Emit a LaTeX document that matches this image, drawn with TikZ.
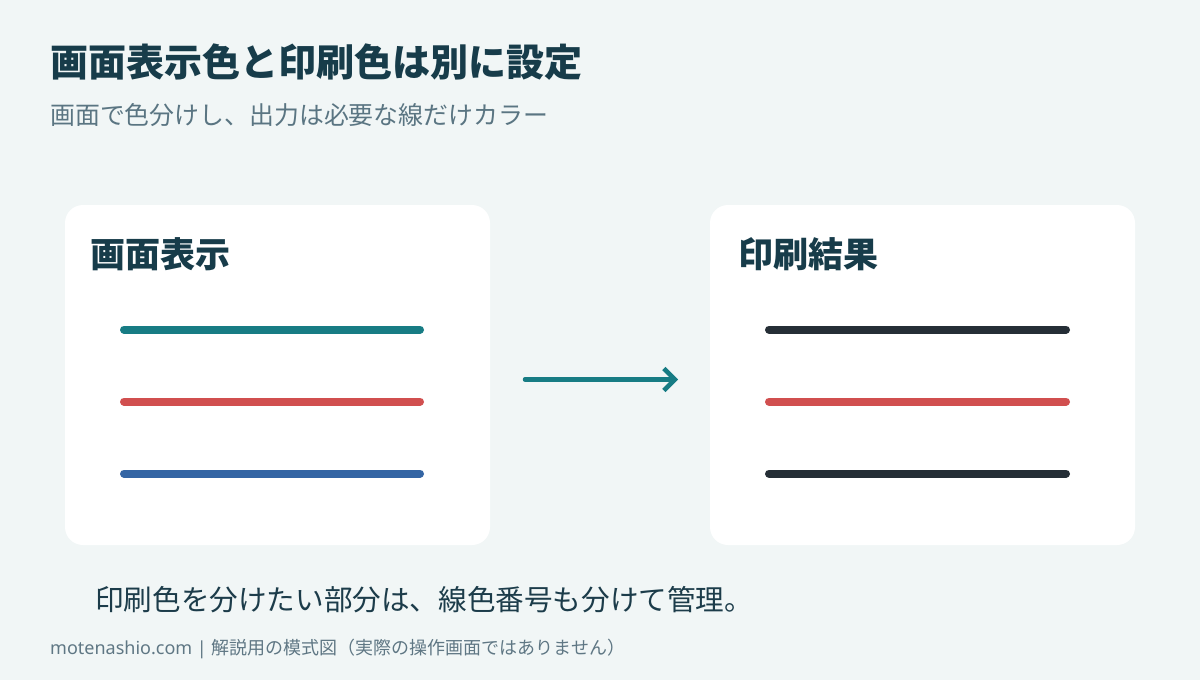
\documentclass[tikz,border=0pt]{standalone}
\usepackage{fontspec}
\setmainfont{Noto Sans CJK JP}
\newfontfamily\latinfont{Noto Sans}
\usetikzlibrary{arrows.meta}
\definecolor{bg}{HTML}{F1F6F6}
\definecolor{titlec}{HTML}{173C4A}
\definecolor{subc}{HTML}{5A7582}
\definecolor{bodyc}{HTML}{1C3C4A}
\definecolor{footc}{HTML}{5F7784}
\definecolor{tealc}{HTML}{177C84}
\definecolor{redc}{HTML}{D14F4F}
\definecolor{bluec}{HTML}{3465A4}
\definecolor{darkc}{HTML}{252E36}
\tikzset{
  card/.style={fill=white, rounded corners=18pt, draw=none},
  cardtitle/.style={anchor=west, inner sep=0pt, text=titlec, font=\fontsize{35}{40}\selectfont\bfseries},
  sample/.style={line width=8pt, line cap=round},
  flow/.style={line width=4.5pt, line cap=round, tealc, -{Straight Barb[length=11pt, width=22pt, line width=4.5pt]}},
}
\begin{document}
\begin{tikzpicture}[x=1pt, y=-1pt]
\fill[bg] (0,0) rectangle (1200,680);
\useasboundingbox (0,0) rectangle (1200,680);
\node[anchor=west, inner sep=0pt, text=titlec, font=\fontsize{38}{44}\selectfont\bfseries] (title) at (50,62) {画面表示色と印刷色は別に設定};
\node[anchor=west, inner sep=0pt, text=subc, font=\fontsize{24.9}{30}\selectfont] (sub) at (50,115) {画面で色分けし、出力は必要な線だけカラー};
% cards
\path[card] (65,205) rectangle (490,545);
\path[card] (710,205) rectangle (1135,545);
\node[cardtitle] (lt) at (90,254) {画面表示};
\node[cardtitle] (rt) at (738,254) {印刷結果};
% left lines
\coordinate (l1a) at (124,329.5); \coordinate (l1b) at (420,329.5);
\coordinate (l2a) at (124,401.5); \coordinate (l2b) at (420,401.5);
\coordinate (l3a) at (124,473.5); \coordinate (l3b) at (420,473.5);
\draw[sample, tealc] (l1a) -- (l1b);
\draw[sample, redc] (l2a) -- (l2b);
\draw[sample, bluec] (l3a) -- (l3b);
% right lines
\coordinate (r1a) at (769,329.5); \coordinate (r1b) at (1066,329.5);
\coordinate (r2a) at (769,401.5); \coordinate (r2b) at (1066,401.5);
\coordinate (r3a) at (769,473.5); \coordinate (r3b) at (1066,473.5);
\draw[sample, darkc] (r1a) -- (r1b);
\draw[sample, redc] (r2a) -- (r2b);
\draw[sample, darkc] (r3a) -- (r3b);
% arrow
\coordinate (aa) at (525,379.5);
\coordinate (ab) at (678,379.5);
\draw[flow] (aa) -- (ab);
\node[anchor=west, inner sep=0pt, text=bodyc, font=\fontsize{28.6}{34}\selectfont] (note) at (95,600) {印刷色を分けたい部分は、線色番号も分けて管理。};
\node[anchor=west, inner sep=0pt, text=footc, font=\fontsize{18}{22}\selectfont] (foot) at (50,649) {{\latinfont motenashio.com | }解説用の模式図（実際の操作画面ではありません）};
\end{tikzpicture}
\end{document}
